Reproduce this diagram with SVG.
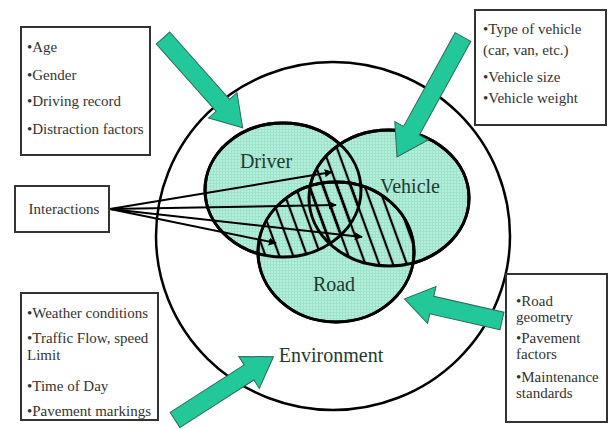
<svg xmlns="http://www.w3.org/2000/svg" width="608" height="429" viewBox="0 0 608 429">
<style>
.box{fill:#fff;stroke:#333;stroke-width:2}
.t{font-family:"Liberation Serif","Times New Roman",serif;font-size:15px;fill:#333}
.lbl{font-family:"Liberation Serif","Times New Roman",serif;font-size:20px;fill:#1e3a32}
.ring{fill:url(#grid);stroke:#000;stroke-width:3}
.ol{fill:none;stroke:#000;stroke-width:3}
.arr{fill:#22c79a;stroke:#2b6b58;stroke-width:1}
.il{stroke:#000;stroke-width:2;fill:none;marker-end:url(#ah)}
</style>
<defs>
<pattern id="grid" width="3" height="3" patternUnits="userSpaceOnUse">
<rect width="3" height="3" fill="#b4efdb"/>
<path d="M0 0.5H3M0.5 0V3" stroke="#9fe3cc" stroke-width="1"/>
</pattern>
<pattern id="hatch" width="13" height="13" patternUnits="userSpaceOnUse" patternTransform="rotate(-20)">
<line x1="6" y1="0" x2="6" y2="13" stroke="#000" stroke-width="2.2"/>
</pattern>
<clipPath id="cD"><ellipse cx="283" cy="190" rx="78" ry="67"/></clipPath>
<clipPath id="cV"><ellipse cx="389" cy="198" rx="80" ry="68"/></clipPath>
<clipPath id="cR"><ellipse cx="336" cy="252" rx="78" ry="70"/></clipPath>
<marker id="ah" viewBox="0 0 10 10" refX="9" refY="5" markerWidth="4" markerHeight="4" orient="auto"><path d="M0 0L10 5L0 10Z" fill="#000"/></marker>
</defs>
<rect width="608" height="429" fill="#fff"/>
<g id="environment">
<ellipse cx="333" cy="236" rx="177" ry="174" fill="none" stroke="#000" stroke-width="2.5"/>
<text class="lbl" x="331" y="362" text-anchor="middle">Environment</text>
</g>
<g id="driver"><ellipse class="ring" cx="283" cy="190" rx="78" ry="67"/></g>
<g id="vehicle"><ellipse class="ring" cx="389" cy="198" rx="80" ry="68"/></g>
<g id="road"><ellipse class="ring" cx="336" cy="252" rx="78" ry="70"/></g>
<g id="hatching">
<g clip-path="url(#cD)"><rect x="150" y="100" width="350" height="250" fill="url(#hatch)" clip-path="url(#cV)"/></g>
<g clip-path="url(#cD)"><rect x="150" y="100" width="350" height="250" fill="url(#hatch)" clip-path="url(#cR)"/></g>
<g clip-path="url(#cV)"><rect x="150" y="100" width="350" height="250" fill="url(#hatch)" clip-path="url(#cR)"/></g>
</g>
<g id="outlines">
<ellipse class="ol" cx="283" cy="190" rx="78" ry="67"/>
<ellipse class="ol" cx="389" cy="198" rx="80" ry="68"/>
<ellipse class="ol" cx="336" cy="252" rx="78" ry="70"/>
</g>
<text class="lbl" x="266" y="168" text-anchor="middle">Driver</text>
<text class="lbl" x="410" y="193" text-anchor="middle">Vehicle</text>
<text class="lbl" x="334" y="291" text-anchor="middle">Road</text>
<g id="connectors">
<line class="il" x1="110" y1="209" x2="332" y2="172"/>
<line class="il" x1="110" y1="209" x2="336" y2="205"/>
<line class="il" x1="110" y1="209" x2="362" y2="237"/>
<line class="il" x1="110" y1="209" x2="276" y2="243"/>
<path class="arr" transform="translate(163,38) rotate(48.4)" d="M0 -9H90V-19L120 0L90 19V9H0Z"/>
<path class="arr" transform="translate(463,37) rotate(118.8)" d="M0 -9H107V-19L137 0L107 19V9H0Z"/>
<path class="arr" transform="translate(502,321) rotate(192.8)" d="M0 -9H72V-19L100 0L72 19V9H0Z"/>
<path class="arr" transform="translate(175,420) rotate(-32.7)" d="M0 -9H88V-19L117 0L88 19V9H0Z"/>
</g>
<g id="driver-factors">
<rect class="box" x="21" y="27" width="129" height="128"/>
<text class="t" x="27" y="52">•Age</text>
<text class="t" x="27" y="80">•Gender</text>
<text class="t" x="27" y="106">•Driving record</text>
<text class="t" x="27" y="134">•Distraction factors</text>
</g>
<g id="vehicle-factors">
<rect class="box" x="475" y="10" width="131" height="115"/>
<text class="t" x="483" y="34">•Type of vehicle</text>
<text class="t" x="483" y="55">(car, van, etc.)</text>
<text class="t" x="483" y="82">•Vehicle size</text>
<text class="t" x="483" y="103">•Vehicle weight</text>
</g>
<g id="interactions">
<rect class="box" x="15" y="186" width="94" height="46"/>
<text class="t" x="64" y="214" text-anchor="middle">Interactions</text>
</g>
<g id="environment-factors">
<rect class="box" x="21" y="293" width="137" height="127"/>
<text class="t" x="27" y="318">•Weather conditions</text>
<text class="t" x="27" y="343">•Traffic Flow, speed</text>
<text class="t" x="27" y="360">Limit</text>
<text class="t" x="27" y="391">•Time of Day</text>
<text class="t" x="27" y="416">•Pavement markings</text>
</g>
<g id="road-factors">
<rect class="box" x="506" y="274" width="101" height="148"/>
<text class="t" x="516" y="306">•Road</text>
<text class="t" x="516" y="322">geometry</text>
<text class="t" x="516" y="343">•Pavement</text>
<text class="t" x="516" y="359">factors</text>
<text class="t" x="516" y="382">•Maintenance</text>
<text class="t" x="516" y="398">standards</text>
</g>
</svg>
